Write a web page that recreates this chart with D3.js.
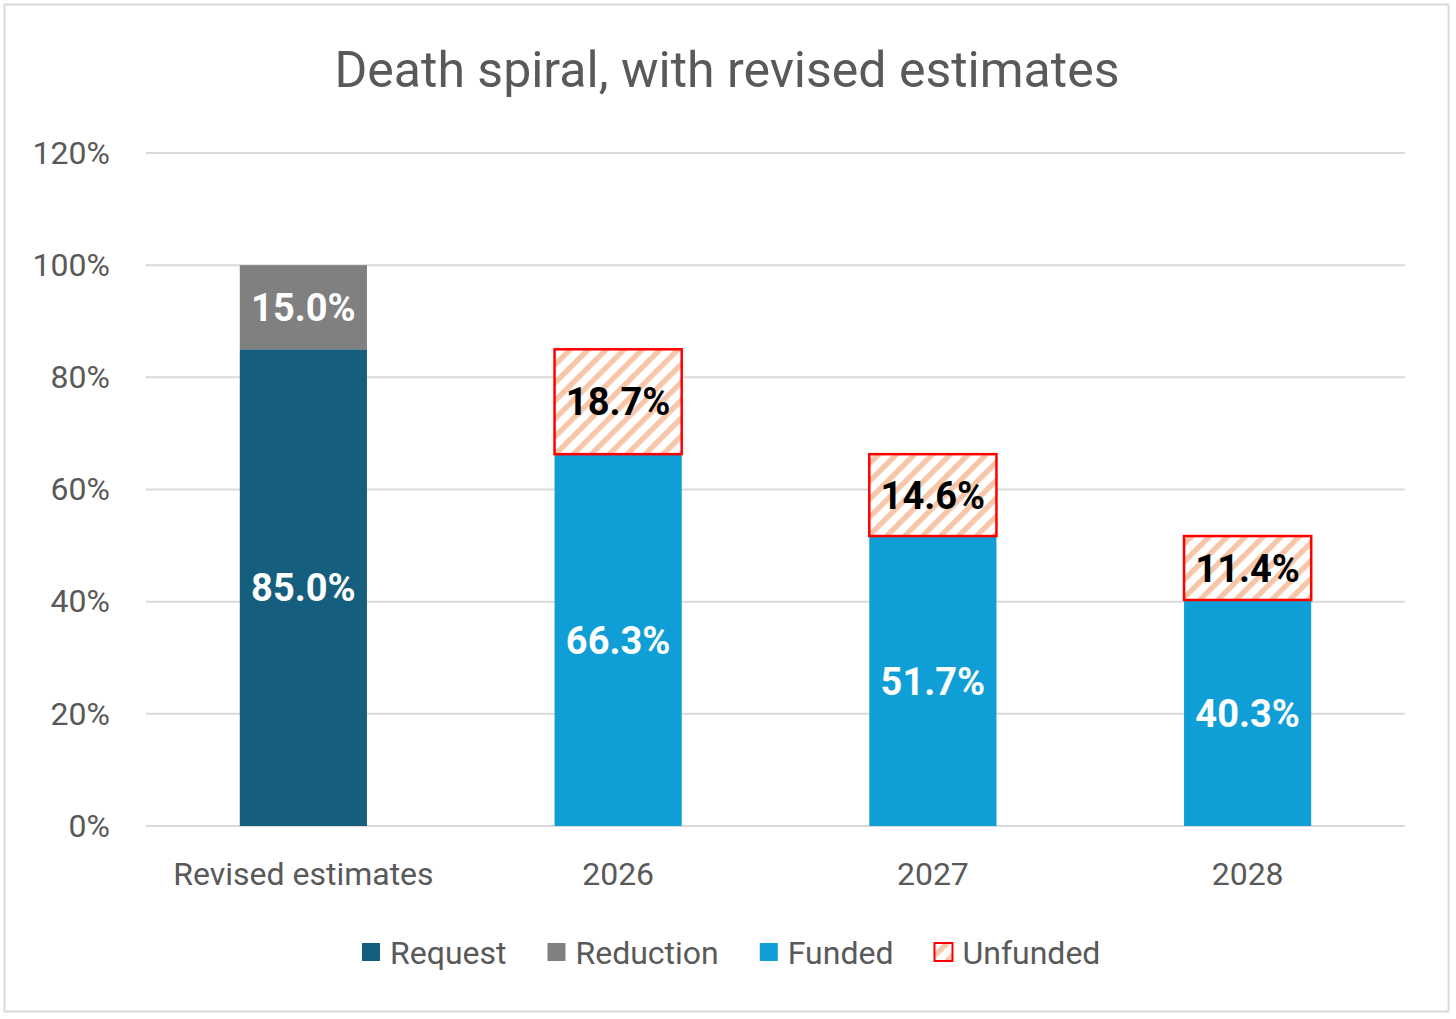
<!DOCTYPE html>
<html>
<head>
<meta charset="utf-8">
<script src="https://cdn.jsdelivr.net/npm/d3@7"></script>
<style>
  html, body { margin: 0; padding: 0; background: #fff; }
  text { font-family: Roboto, "Liberation Sans", sans-serif; }
</style>
</head>
<body>
<div id="canvas"></div>
<script>
"use strict"

let svgWidth = 1456
let svgHeight = 1019

/* data */
let categories = ["Revised estimates", "2026", "2027", "2028"]
let request = [85.0, 0, 0, 0]
let reduction = [15.0, 0, 0, 0]
let funded = [0, 66.3, 51.7, 40.3]
let unfunded = [0, 18.7, 14.6, 11.4]
let yTicks = [0, 20, 40, 60, 80, 100, 120]
let seriesNames = ["Request", "Reduction", "Funded", "Unfunded"]

let colors = {
  Request: "#165e7e",
  Reduction: "#808080",
  Funded: "#0f9ed5",
  Unfunded: "url(#hatch)"
}

let plot = { left: 146, right: 1405, top: 153, bottom: 826 }

let svg = d3.select("#canvas")
  .append("svg")
  .attr("width", svgWidth)
  .attr("height", svgHeight)

/* hatch pattern for unfunded */
let defs = svg.append("defs")
let pat = defs.append("pattern")
  .attr("id", "hatch")
  .attr("patternUnits", "userSpaceOnUse")
  .attr("width", 12.7)
  .attr("height", 12.7)
  .attr("patternTransform", "rotate(45)")
pat.append("rect")
  .attr("width", 12.7).attr("height", 12.7).attr("fill", "#ffffff")
pat.append("rect")
  .attr("width", 5.4).attr("height", 12.7).attr("fill", "#f7c6a9")

/* outer border */
svg.append("rect")
  .attr("x", 4.5).attr("y", 4.5)
  .attr("width", 1444).attr("height", 1007)
  .attr("fill", "#fff")
  .attr("stroke", "#d9d9d9")
  .attr("stroke-width", 2)

/* title */
svg.append("text")
  .attr("x", 727)
  .attr("y", 87)
  .attr("text-anchor", "middle")
  .attr("font-size", 50)
  .attr("fill", "#595959")
  .text("Death spiral, with revised estimates")

/* scales */
let xScale = d3.scaleBand()
  .domain(categories)
  .range([plot.left, plot.right])
  .paddingInner(0.596)
  .paddingOuter(0.298)

let yScale = d3.scaleLinear()
  .domain([0, 120])
  .range([plot.bottom, plot.top])

/* gridlines */
svg.append("g")
  .selectAll("line")
  .data(yTicks)
  .join("line")
  .attr("x1", plot.left)
  .attr("x2", plot.right)
  .attr("y1", d => yScale(d))
  .attr("y2", d => yScale(d))
  .attr("stroke", "#d9d9d9")
  .attr("stroke-width", 2)

/* y axis labels */
let yAxis = d3.axisLeft(yScale)
  .tickValues(yTicks)
  .tickFormat(d => d + "%")
  .tickSize(0)
  .tickPadding(36)
let yG = svg.append("g")
  .attr("transform", "translate(" + plot.left + ",0)")
  .call(yAxis)
yG.select(".domain").remove()
yG.selectAll("text")
  .attr("font-size", 32)
  .attr("fill", "#595959")
  .attr("font-family", "Roboto, sans-serif")

/* x axis labels */
let xAxis = d3.axisBottom(xScale).tickSize(0).tickPadding(36)
let xG = svg.append("g")
  .attr("transform", "translate(0," + plot.bottom + ")")
  .call(xAxis)
xG.select(".domain").remove()
xG.selectAll("text")
  .attr("font-size", 32)
  .attr("fill", "#595959")
  .attr("font-family", "Roboto, sans-serif")

/* stacked data */
let table = categories.map((c, i) => ({
  category: c,
  Request: request[i],
  Reduction: reduction[i],
  Funded: funded[i],
  Unfunded: unfunded[i]
}))

let stacked = d3.stack().keys(seriesNames)(table)

let layers = svg.append("g")
  .selectAll("g")
  .data(stacked)
  .join("g")

layers.selectAll("rect")
  .data(s => s.map(d => ({ key: s.key, y0: d[0], y1: d[1], category: d.data.category })))
  .join("rect")
  .filter(d => d.y1 - d.y0 > 0)
  .attr("x", d => xScale(d.category))
  .attr("width", xScale.bandwidth())
  .attr("y", d => yScale(d.y1))
  .attr("height", d => yScale(d.y0) - yScale(d.y1))
  .attr("fill", d => colors[d.key])
  .attr("stroke", d => d.key === "Unfunded" ? "#ff0000" : "none")
  .attr("stroke-width", 2.5)

/* data labels */
layers.selectAll("text")
  .data(s => s.map(d => ({ key: s.key, y0: d[0], y1: d[1], category: d.data.category })))
  .join("text")
  .filter(d => d.y1 - d.y0 > 0)
  .attr("x", d => xScale(d.category) + xScale.bandwidth() / 2)
  .attr("y", d => yScale((d.y0 + d.y1) / 2))
  .attr("dy", "0.36em")
  .attr("text-anchor", "middle")
  .attr("font-size", 38)
  .attr("font-weight", "bold")
  .attr("fill", d => d.key === "Unfunded" ? "#000000" : "#ffffff")
  .text(d => (d.y1 - d.y0).toFixed(1) + "%")

/* legend */
let legend = svg.append("g")
let legendX = 362
let legendY = 952
seriesNames.forEach(name => {
  let item = legend.append("g").attr("transform", "translate(" + legendX + "," + legendY + ")")
  item.append("rect")
    .attr("x", 0).attr("y", -9)
    .attr("width", 18).attr("height", 18)
    .attr("fill", colors[name])
    .attr("stroke", name === "Unfunded" ? "#ff0000" : "none")
    .attr("stroke-width", 2)
  let t = item.append("text")
    .attr("x", 28)
    .attr("y", 0)
    .attr("dy", "0.36em")
    .attr("font-size", 32)
    .attr("fill", "#595959")
    .text(name)
  legendX += 28 + t.node().getComputedTextLength() + 41
})
</script>
</body>
</html>
